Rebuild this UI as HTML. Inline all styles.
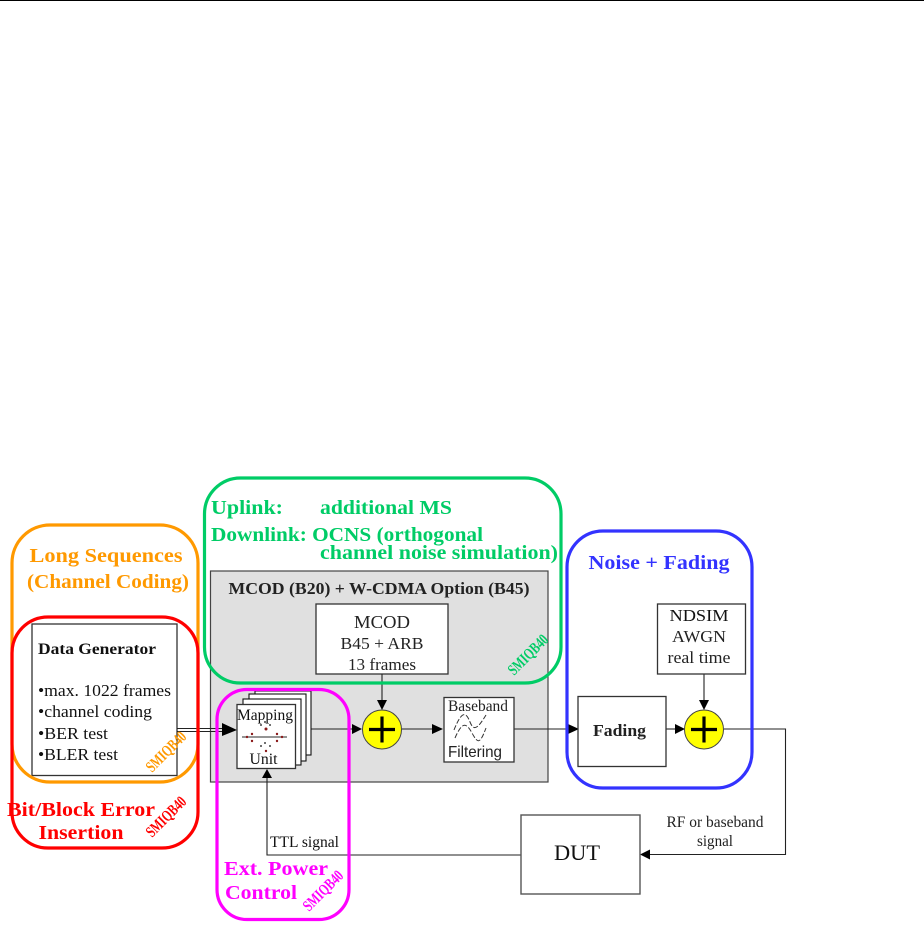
<!DOCTYPE html>
<html><head><meta charset="utf-8"><style>
html,body{margin:0;padding:0;background:#fff}
svg{display:block}
text{font-family:"Liberation Serif",serif}
.b{font-weight:bold}
.box{fill:#fff;stroke:#333;stroke-width:1.3}
.ln{fill:none;stroke:#222;stroke-width:1.1}
.rr{fill:none;stroke-width:3.2}
</style></head><body>
<svg width="924" height="929" viewBox="0 0 924 929" xmlns="http://www.w3.org/2000/svg">
<rect x="0" y="0" width="924" height="1" fill="#000"/>
<!-- gray -->
<rect x="210.500" y="571" width="337.500" height="211" fill="#e0e0e0" stroke="#444" stroke-width="1.2"/>
<!-- data gen -->
<rect class="box" x="32" y="624" width="145" height="151.500" stroke="#111"/>
<text x="38" y="654" font-size="16" class="b" textLength="118" lengthAdjust="spacingAndGlyphs" fill="#111">Data Generator</text>
<g font-size="17" fill="#111">
<text x="38" y="696" textLength="133" lengthAdjust="spacingAndGlyphs">•max. 1022 frames</text>
<text x="38" y="717" textLength="114" lengthAdjust="spacingAndGlyphs">•channel coding</text>
<text x="38" y="739" textLength="70" lengthAdjust="spacingAndGlyphs">•BER test</text>
<text x="38" y="760" textLength="80" lengthAdjust="spacingAndGlyphs">•BLER test</text>
</g>
<!-- mcod -->
<rect class="box" x="316" y="604" width="132" height="70"/>
<text x="382" y="628" font-size="18" text-anchor="middle" fill="#222" textLength="56" lengthAdjust="spacingAndGlyphs">MCOD</text>
<text x="382" y="649" font-size="17" text-anchor="middle" fill="#222" textLength="83" lengthAdjust="spacingAndGlyphs">B45 + ARB</text>
<text x="382" y="670" font-size="17" text-anchor="middle" fill="#222" textLength="68" lengthAdjust="spacingAndGlyphs">13 frames</text>
<text x="379" y="594" font-size="17" class="b" text-anchor="middle" fill="#222" textLength="301" lengthAdjust="spacingAndGlyphs">MCOD (B20) + W-CDMA Option (B45)</text>
<!-- lines under -->
<path class="ln" d="M177 728.500H230M177 731.500H230"/>
<path d="M222 723L237 730L222 736Z" fill="#000"/>
<path class="ln" d="M311 729H352"/>
<path d="M352 724L362 729L352 734Z" fill="#000"/>
<path class="ln" d="M382 674V703"/>
<path d="M377 700L387 700L382 710Z" fill="#000"/>
<path class="ln" d="M402 729H433"/>
<path d="M432 724L443 729L432 734Z" fill="#000"/>
<path class="ln" d="M514 729H570"/>
<path d="M568 724L579 729L568 734Z" fill="#000"/>
<path class="ln" d="M666 729H675"/>
<path d="M675 724L685 729L675 734Z" fill="#000"/>
<path class="ln" d="M704 674V701"/>
<path d="M699 700L709 700L704 710Z" fill="#000"/>
<path class="ln" d="M724 729H785.500V854.500H648"/>
<path d="M650 849.500L640 854.500L650 859.500Z" fill="#000"/>
<path class="ln" d="M521 855H267V778"/>
<path d="M262 778L272 778L267 769Z" fill="#000"/>
<!-- mapping stack -->
<rect x="255" y="691" width="56" height="64" fill="#fff" stroke="#111" stroke-width="1.1"/>
<rect x="249" y="694" width="57" height="67" fill="#fff" stroke="#111" stroke-width="1.1"/>
<rect x="243" y="699" width="58" height="66" fill="#fff" stroke="#111" stroke-width="1.1"/>
<rect class="box" x="237" y="704.500" width="58.500" height="64"/>
<text x="265" y="720" font-size="16" text-anchor="middle" fill="#111" textLength="56" lengthAdjust="spacingAndGlyphs">Mapping</text>
<text x="263.500" y="764" font-size="16" text-anchor="middle" fill="#111" textLength="28" lengthAdjust="spacingAndGlyphs">Unit</text>
<path d="M242 737H287" stroke="#555" stroke-width="1.2"/>
<g fill="#8b1a1a"><circle cx="252" cy="734" r="1.2"/><circle cx="252" cy="741" r="1.2"/><circle cx="277" cy="734" r="1.2"/><circle cx="277" cy="741" r="1.2"/><circle cx="266" cy="729" r="1.5"/><circle cx="266" cy="751" r="1.2"/><circle cx="247" cy="737" r="1.2"/><circle cx="282" cy="737" r="1.2"/></g>
<g fill="#444"><circle cx="261" cy="725" r="1"/><circle cx="270" cy="725" r="1"/><circle cx="261" cy="746" r="1"/><circle cx="270" cy="746" r="1"/><circle cx="265" cy="722" r="1"/><circle cx="265" cy="743" r="1"/></g>
<!-- yellow sums -->
<g>
<circle cx="382" cy="729.500" r="19.500" fill="#ffff00" stroke="#444" stroke-width="1"/>
<path d="M369 729.500H395M382 716.500V742.500" stroke="#000" stroke-width="3.200"/>
<circle cx="704" cy="729.500" r="19.500" fill="#ffff00" stroke="#444" stroke-width="1"/>
<path d="M691 729.500H717M704 716.500V742.500" stroke="#000" stroke-width="3.200"/>
</g>
<!-- baseband -->
<rect class="box" x="444" y="697.500" width="70" height="64.500"/>
<text x="448" y="711" font-size="15.500" fill="#222" textLength="60" lengthAdjust="spacingAndGlyphs">Baseband</text>
<text x="448" y="757" font-size="16" style="font-family:'Liberation Sans',sans-serif" fill="#222" textLength="54" lengthAdjust="spacingAndGlyphs">Filtering</text>
<path d="M454 730C462 710 466 712 470 722S478 728 486 715" fill="none" stroke="#333" stroke-width="1" stroke-dasharray="5 2"/>
<path d="M455 738C462 722 466 722 472 733S480 744 486 728" fill="none" stroke="#333" stroke-width="1" stroke-dasharray="5 2"/>
<!-- fading -->
<rect class="box" x="578" y="696.500" width="88" height="70"/>
<text x="593" y="736" font-size="16.500" class="b" fill="#222" textLength="53" lengthAdjust="spacingAndGlyphs">Fading</text>
<!-- ndsim -->
<rect class="box" x="657.500" y="604" width="88" height="70"/>
<text x="699" y="621" font-size="16.500" text-anchor="middle" fill="#111" textLength="59" lengthAdjust="spacingAndGlyphs">NDSIM</text>
<text x="699" y="642" font-size="16.500" text-anchor="middle" fill="#222" textLength="54" lengthAdjust="spacingAndGlyphs">AWGN</text>
<text x="699" y="663" font-size="16.500" text-anchor="middle" fill="#222" textLength="63" lengthAdjust="spacingAndGlyphs">real time</text>
<!-- DUT -->
<rect x="521" y="815" width="119" height="79" fill="#fff" stroke="#555" stroke-width="1.4"/>
<text x="577" y="860" font-size="22" text-anchor="middle" fill="#111" textLength="46" lengthAdjust="spacingAndGlyphs">DUT</text>
<text x="270" y="847" font-size="16" fill="#111" textLength="69" lengthAdjust="spacingAndGlyphs">TTL signal</text>
<text x="715" y="827" font-size="15.500" text-anchor="middle" fill="#222" textLength="97" lengthAdjust="spacingAndGlyphs">RF or baseband</text>
<text x="715" y="846" font-size="15.500" text-anchor="middle" fill="#222" textLength="36" lengthAdjust="spacingAndGlyphs">signal</text>
<!-- rounded rects -->
<rect class="rr" x="12" y="525" width="186" height="257" rx="38" stroke="#ff9900"/>
<rect class="rr" x="12" y="617" width="186" height="231" rx="36" stroke="#ff0000"/>
<rect class="rr" x="204.500" y="478" width="356.500" height="205" rx="36" stroke="#00cc66"/>
<rect class="rr" x="567" y="531" width="185" height="257" rx="36" stroke="#3333ff"/>
<rect class="rr" x="217" y="689.500" width="132" height="230" rx="30" stroke="#ff00ff"/>
<!-- colored labels -->
<text x="106" y="562" font-size="20.500" class="b" text-anchor="middle" fill="#ff9900" textLength="153" lengthAdjust="spacingAndGlyphs">Long Sequences</text>
<text x="108" y="588" font-size="20.500" class="b" text-anchor="middle" fill="#ff9900" textLength="162" lengthAdjust="spacingAndGlyphs">(Channel Coding)</text>
<g font-size="20.500" fill="#00cc66" font-weight="bold">
<text x="211" y="514" textLength="72" lengthAdjust="spacingAndGlyphs">Uplink:</text>
<text x="320" y="514" textLength="132" lengthAdjust="spacingAndGlyphs">additional MS</text>
<text x="211" y="541" textLength="272" lengthAdjust="spacingAndGlyphs">Downlink: OCNS (orthogonal</text>
<text x="320" y="559" textLength="238" lengthAdjust="spacingAndGlyphs">channel noise simulation)</text>
</g>
<text x="659" y="569" font-size="20.500" class="b" text-anchor="middle" fill="#3333ff" textLength="141" lengthAdjust="spacingAndGlyphs">Noise + Fading</text>
<text x="81" y="816" font-size="20.500" class="b" text-anchor="middle" fill="#ff0000" textLength="148" lengthAdjust="spacingAndGlyphs">Bit/Block Error</text>
<text x="81" y="839" font-size="20.500" class="b" text-anchor="middle" fill="#ff0000" textLength="85" lengthAdjust="spacingAndGlyphs">Insertion</text>
<text x="224" y="875" font-size="20.500" class="b" fill="#ff00ff" textLength="104" lengthAdjust="spacingAndGlyphs">Ext. Power</text>
<text x="225" y="899" font-size="20.500" class="b" fill="#ff00ff" textLength="72" lengthAdjust="spacingAndGlyphs">Control</text>
<!-- SMIQ stamps -->
<g font-size="16" font-weight="bold">
<text transform="translate(152 773) rotate(-45)" fill="#ff9900" textLength="50" lengthAdjust="spacingAndGlyphs">SMIQB40</text>
<text transform="translate(152 838) rotate(-45)" fill="#ff0000" textLength="50" lengthAdjust="spacingAndGlyphs">SMIQB40</text>
<text transform="translate(514 676) rotate(-45)" fill="#00cc66" textLength="50" lengthAdjust="spacingAndGlyphs">SMIQB40</text>
<text transform="translate(309 912) rotate(-45)" fill="#ff00ff" textLength="50" lengthAdjust="spacingAndGlyphs">SMIQB40</text>
</g>
</svg>
</body></html>
